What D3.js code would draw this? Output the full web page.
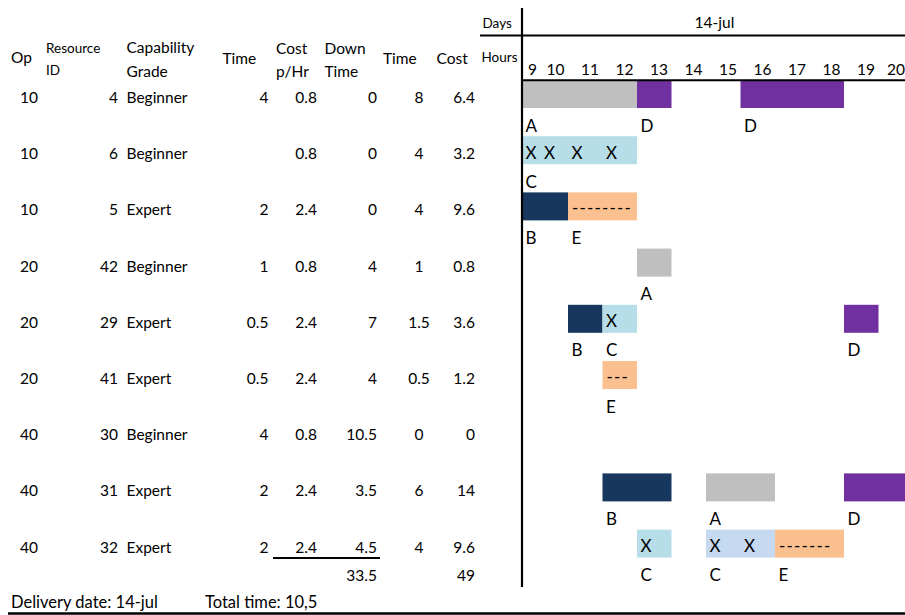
<!DOCTYPE html>
<html><head><meta charset="utf-8">
<script src="https://cdn.jsdelivr.net/npm/d3@7"></script>
<style>
body{margin:0;background:#fff}
svg{display:block}
text{font-family:Lato,"Open Sans",sans-serif;fill:#000}
</style>
</head><body>
<svg id="c" width="905" height="615"></svg>
<script>
// ---------- data ----------
const ops         = [10, 10, 10, 20, 20, 20, 40, 40, 40];
const resourceIds = [4, 6, 5, 42, 29, 41, 30, 31, 32];
const grades      = ["Beginner","Beginner","Expert","Beginner","Expert","Expert","Beginner","Expert","Expert"];
const times       = [4, null, 2, 1, 0.5, 0.5, 4, 2, 2];
const costPerHr   = [0.8, 0.8, 2.4, 0.8, 2.4, 2.4, 0.8, 2.4, 2.4];
const downTimes   = [0, 0, 0, 4, 7, 4, 10.5, 3.5, 4.5];
const schedTimes  = [8, 4, 4, 1, 1.5, 0.5, 0, 6, 4];
const costs       = [6.4, 3.2, 9.6, 0.8, 3.6, 1.2, 0, 14, 9.6];
const downTimeTotal = 33.5;
const costTotal     = 49;
const hours = [9, 10, 11, 12, 13, 14, 15, 16, 17, 18, 19, 20];
const dayLabel = "14-jul";
const deliveryText = "Delivery date: 14-jul";
const totalTimeText = "Total time: 10,5";
// gantt segments: [row, startHour, endHour, task, mark]
const segments = [
  [0, 9, 13, "A", ""], [0, 13, 14, "D", ""], [0, 16, 19, "D", ""],
  [1, 9, 13, "C", "X"],
  [2, 9, 11, "B", ""], [2, 11, 13, "E", "--------"],
  [3, 13, 14, "A", ""],
  [4, 11, 12, "B", ""], [4, 12, 13, "C", "X"], [4, 19, 20, "D", ""],
  [5, 12, 13, "E", "---"],
  [7, 12, 14, "B", ""], [7, 15, 17, "A", ""], [7, 19, 21, "D", ""],
  [8, 13, 14, "C", "X"], [8, 15, 17, "C2", "X"], [8, 17, 19, "E", "-------"]
];
const taskColors = {A:"#BFBFBF", B:"#17375E", C:"#B7DEE8", C2:"#C5D9F1", D:"#7030A0", E:"#FAC090"};

// ---------- drawing ----------
const svg = d3.select("#c");
const FS = 15.5;
const GFS = 17;
const x = d3.scaleLinear().domain([9, 10, 11, 21]).range([522, 540.5, 568, 913]);
const rowTop = d3.scaleLinear().domain([0, 1]).range([80, 136.2]);

function txt(g, s, tx, ty, anchor, size) {
  return g.append("text").attr("x", tx).attr("y", ty)
    .attr("text-anchor", anchor || "start")
    .style("font-size", (size || FS) + "px").text(s);
}

// headers
const hdr = svg.append("g");
txt(hdr, "Op", 11, 63);
txt(hdr, "Resource", 46, 53, "start", 13.5);
txt(hdr, "ID", 46, 75, "start", 13.5);
txt(hdr, "Capability", 126.5, 53);
txt(hdr, "Grade", 126.5, 77);
txt(hdr, "Time", 222.5, 64);
txt(hdr, "Cost", 276, 54);
txt(hdr, "p/Hr", 276, 77);
txt(hdr, "Down", 324.5, 54);
txt(hdr, "Time", 324.5, 77);
txt(hdr, "Time", 383, 64);
txt(hdr, "Cost", 436.5, 64);
txt(hdr, "Days", 482.5, 28, "start", 13.5);
txt(hdr, "Hours", 481.5, 62, "start", 13.5);
txt(hdr, dayLabel, (x(9) + 905) / 2 + 1, 28, "middle");

// hour labels
svg.append("g").selectAll("text").data(hours).join("text")
  .attr("x", h => Math.min(x(h + 1) - 3.5, 905))
  .attr("y", 75).attr("text-anchor", "end")
  .style("font-size", FS + "px").text(h => h);

// table rows
const fmt = v => (v === null || v === undefined) ? "" : String(v);
const cols = [
  {vals: ops, x: 38, anchor: "end"},
  {vals: resourceIds, x: 118, anchor: "end"},
  {vals: grades, x: 126.5, anchor: "start"},
  {vals: times, x: 268.5, anchor: "end"},
  {vals: costPerHr, x: 317, anchor: "end"},
  {vals: downTimes, x: 377, anchor: "end"},
  {vals: schedTimes, x: 419, anchor: "middle"},
  {vals: costs, x: 475, anchor: "end"}
];
const tbl = svg.append("g");
cols.forEach(c => {
  tbl.append("g").selectAll("text").data(c.vals).join("text")
    .attr("x", c.x).attr("y", (d, i) => rowTop(i) + 23)
    .attr("text-anchor", c.anchor).style("font-size", FS + "px")
    .text(fmt);
});
const lastRow = ops.length - 1;
txt(tbl, fmt(downTimeTotal), 377, rowTop(lastRow) + 51, "end");
txt(tbl, fmt(costTotal), 475, rowTop(lastRow) + 51, "end");
tbl.append("line").attr("x1", 273).attr("x2", 380)
  .attr("y1", rowTop(lastRow) + 28.5).attr("y2", rowTop(lastRow) + 28.5)
  .attr("stroke", "#000").attr("stroke-width", 2);

// footer
txt(svg, deliveryText, 11, 608, "start", 16.5);
txt(svg, totalTimeText, 205, 608, "start", 16.5);

// gantt bars
const gg = svg.append("g");
gg.selectAll("rect").data(segments).join("rect")
  .attr("x", d => x(d[1])).attr("width", d => x(d[2]) - x(d[1]))
  .attr("y", d => rowTop(d[0])).attr("height", 28)
  .attr("fill", d => taskColors[d[3]]);
// task letters below bars
gg.append("g").selectAll("text").data(segments).join("text")
  .attr("x", d => x(d[1]) + 3.5).attr("y", d => rowTop(d[0]) + 51.5)
  .style("font-size", GFS + "px").text(d => d[3].charAt(0));
// X marks: one per hour cell
const xMarks = [];
segments.filter(d => d[4] === "X").forEach(d => {
  for (let h = d[1]; h < d[2]; h++) xMarks.push([d[0], h]);
});
gg.append("g").selectAll("text").data(xMarks).join("text")
  .attr("x", d => x(d[1]) + 3.5)
  .attr("y", d => rowTop(d[0]) + 22.5)
  .style("font-size", GFS + "px").text("X");
// dash marks
gg.append("g").selectAll("text").data(segments.filter(d => d[4] && d[4] !== "X")).join("text")
  .attr("x", d => x(d[1]) + 4).attr("y", d => rowTop(d[0]) + 22)
  .style("font-size", GFS + "px").style("letter-spacing", "1.2px").text(d => d[4]);

// grid lines
const ln = (x1, y1, x2, y2, w) => svg.append("line")
  .attr("x1", x1).attr("y1", y1).attr("x2", x2).attr("y2", y2)
  .attr("stroke", "#000").attr("stroke-width", w);
ln(480, 35.5, 905, 35.5, 2);
ln(522, 80.3, 905, 80.3, 2);
ln(522, 8, 522, 587, 2.2);
ln(8, 613.5, 905, 613.5, 2.5);
</script>
</body></html>
